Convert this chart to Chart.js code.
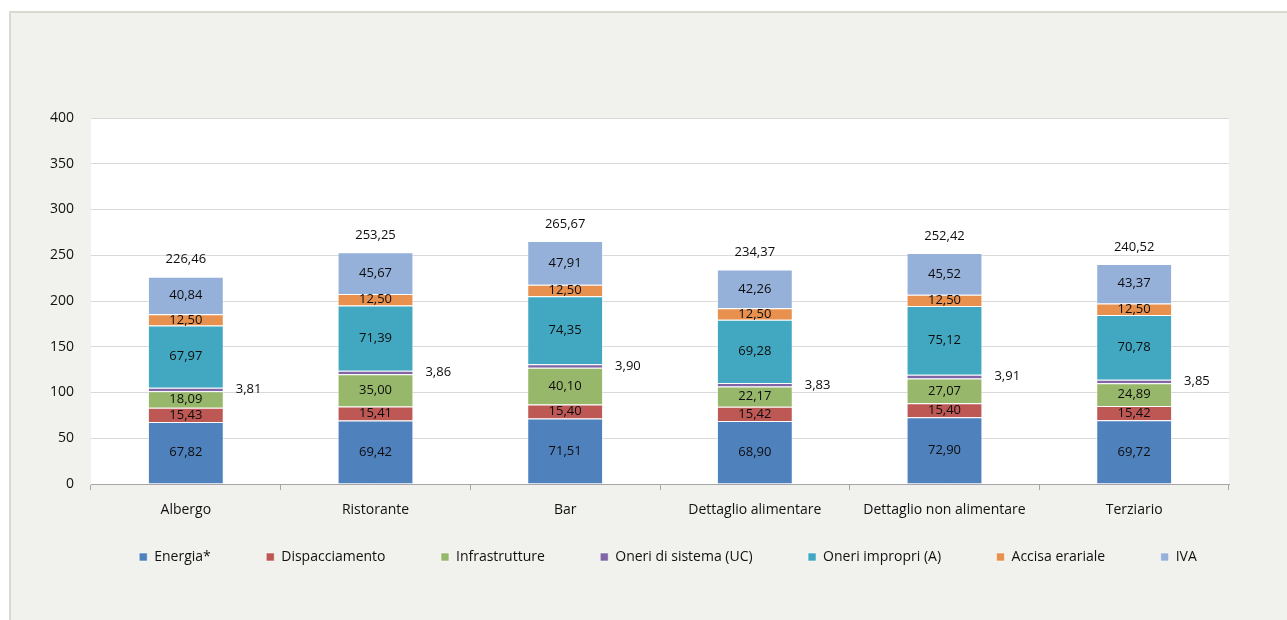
<!DOCTYPE html>
<html>
<head>
<meta charset="utf-8">
<script src="https://cdn.jsdelivr.net/npm/chart.js@4"></script>
<style>
    html, body { margin: 0; padding: 0; background: #ffffff; }
    #wrap { position: relative; width: 1287px; height: 620px; overflow: hidden; }
    #panel {
        position: absolute; left: 9px; top: 11px; right: 0; bottom: 0;
        background: #f1f1ed;
        border-left: 2px solid #dadad2;
        border-top: 2px solid #dadad2;
    }
    #chart { position: absolute; left: 0; top: 0; }
</style>
</head>
<body>
<div id="wrap">
    <div id="panel"></div>
    <canvas id="chart" width="1287" height="620"></canvas>
</div>
<script>
// categorie (tipologie di utenza)
const categories = ['Albergo', 'Ristorante', 'Bar', 'Dettaglio alimentare', 'Dettaglio non alimentare', 'Terziario'];

// componenti della bolletta
const energia = [67.82, 69.42, 71.51, 68.90, 72.90, 69.72];
const dispacciamento = [15.43, 15.41, 15.40, 15.42, 15.40, 15.42];
const infrastrutture = [18.09, 35.00, 40.10, 22.17, 27.07, 24.89];
const oneriSistema = [3.81, 3.86, 3.90, 3.83, 3.91, 3.85];
const oneriImpropri = [67.97, 71.39, 74.35, 69.28, 75.12, 70.78];
const accisa = [12.50, 12.50, 12.50, 12.50, 12.50, 12.50];
const iva = [40.84, 45.67, 47.91, 42.26, 45.52, 43.37];

// totali come riportati sopra le colonne
const totali = [226.46, 253.25, 265.67, 234.37, 252.42, 240.52];

const yTicks = [0, 50, 100, 150, 200, 250, 300, 350, 400];

const FONT = '"Open Sans", "DejaVu Sans", sans-serif';

const fmt = v => v.toFixed(2).replace('.', ',');

// sfondo bianco dell'area del grafico
const plotBackground = {
    id: 'plotBackground',
    beforeDraw(chart) {
        const { ctx, chartArea: a } = chart;
        ctx.save();
        ctx.fillStyle = '#ffffff';
        ctx.fillRect(a.left, a.top, a.right - a.left, a.bottom - a.top);
        ctx.restore();
    }
};

// etichette dei valori dentro le barre, UC a destra, totale sopra
const valueLabels = {
    id: 'valueLabels',
    afterDatasetsDraw(chart) {
        const ctx = chart.ctx;
        ctx.save();
        ctx.font = '13px ' + FONT;
        ctx.fillStyle = '#0d0d0d';
        ctx.textBaseline = 'middle';
        chart.data.datasets.forEach((ds, i) => {
            const meta = chart.getDatasetMeta(i);
            meta.data.forEach((bar, j) => {
                const yMid = (bar.y + bar.base) / 2;
                if (i === 3) {
                    ctx.textAlign = 'left';
                    ctx.fillText(fmt(ds.data[j]), bar.x + bar.width / 2 + 12, yMid);
                } else {
                    ctx.textAlign = 'center';
                    ctx.fillText(fmt(ds.data[j]), bar.x, yMid);
                }
            });
        });
        const last = chart.getDatasetMeta(chart.data.datasets.length - 1);
        last.data.forEach((bar, j) => {
            ctx.textAlign = 'center';
            ctx.fillText(fmt(totali[j]), bar.x, bar.y - 17);
        });
        ctx.restore();
    }
};

const series = [
    { label: 'Energia*', data: energia, color: '#4f81bd' },
    { label: 'Dispacciamento', data: dispacciamento, color: '#bd5855' },
    { label: 'Infrastrutture', data: infrastrutture, color: '#97b76a' },
    { label: 'Oneri di sistema (UC)', data: oneriSistema, color: '#8066a6' },
    { label: 'Oneri impropri (A)', data: oneriImpropri, color: '#42a8c1' },
    { label: 'Accisa erariale', data: accisa, color: '#e8914f' },
    { label: 'IVA', data: iva, color: '#95b1da' }
];

// la stessa "padding" della legenda regola anche lo spazio verticale,
// quindi la distanza orizzontale tra le voci si allarga con spazi finali
const legendGap = '       ';

new Chart(document.getElementById('chart'), {
    type: 'bar',
    data: {
        labels: categories,
        datasets: series.map(s => ({
            label: s.label,
            data: s.data,
            backgroundColor: s.color,
            borderColor: 'rgba(255,255,255,0.55)',
            borderWidth: 1,
            barPercentage: 0.4,
            categoryPercentage: 1.0
        }))
    },
    options: {
        responsive: false,
        animation: false,
        layout: { padding: { left: 49, right: 0, top: 118, bottom: 46 } },
        plugins: {
            tooltip: { enabled: false },
            legend: {
                position: 'bottom',
                labels: {
                    boxWidth: 8,
                    boxHeight: 8,
                    padding: 30,
                    color: '#111111',
                    font: { family: FONT, size: 14 },
                    generateLabels(chart) {
                        const items = Chart.defaults.plugins.legend.labels.generateLabels(chart);
                        items.forEach((it, i) => {
                            if (i < items.length - 1) it.text += legendGap;
                        });
                        return items;
                    }
                }
            }
        },
        scales: {
            x: {
                stacked: true,
                grid: {
                    offset: true,
                    drawOnChartArea: false,
                    tickLength: 6,
                    color: '#a6a6a6'
                },
                border: { color: '#a6a6a6' },
                ticks: {
                    padding: 12,
                    color: '#111111',
                    font: { family: FONT, size: 14 }
                },
                afterFit(scale) { scale.height = 36; }
            },
            y: {
                stacked: true,
                min: 0,
                max: 400,
                afterBuildTicks(scale) { scale.ticks = yTicks.map(v => ({ value: v })); },
                grid: { color: '#d9d9d9', drawTicks: false },
                border: { display: false },
                ticks: {
                    padding: 17,
                    color: '#111111',
                    font: { family: FONT, size: 14 }
                },
                afterFit(scale) { scale.width = 42; }
            },
            yRight: {
                position: 'right',
                display: true,
                grid: { display: false },
                border: { display: false },
                ticks: { display: false },
                afterFit(scale) { scale.width = 58; }
            }
        }
    },
    plugins: [plotBackground, valueLabels]
});
</script>
</body>
</html>
